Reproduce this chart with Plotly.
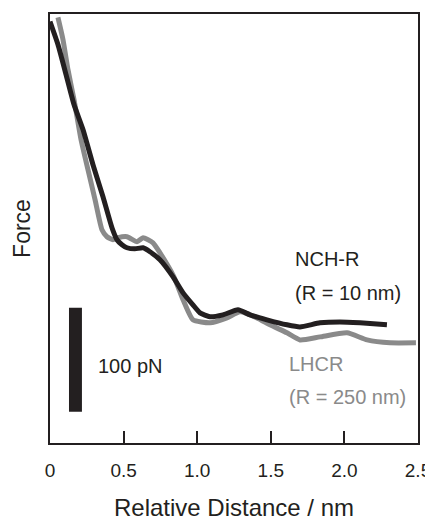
import plotly.graph_objects as go

# NCH-R (R = 10 nm) curve: relative distance (nm) vs force (pN, arbitrary offset)
nch_x = [0.0, 0.054, 0.109, 0.163, 0.224, 0.292, 0.360, 0.421, 0.455, 0.489, 0.523, 0.577,
         0.632, 0.679, 0.747, 0.836, 0.904, 0.971, 1.019, 1.087, 1.175, 1.277, 1.359, 1.474,
         1.610, 1.698, 1.834, 1.970, 2.106, 2.289]
nch_y = [404.8, 382.7, 353.8, 325.0, 301.0, 267.3, 236.5, 206.7, 195.2, 190.4, 187.5, 186.5,
         187.5, 183.7, 176.0, 159.6, 144.2, 132.7, 125.0, 121.2, 123.1, 127.9, 123.1, 118.3,
         113.5, 111.5, 115.4, 116.3, 115.4, 113.5]

# LHCR (R = 250 nm) curve
lhcr_x = [0.054, 0.088, 0.122, 0.163, 0.211, 0.258, 0.306, 0.353, 0.387, 0.428, 0.462, 0.523,
          0.591, 0.632, 0.700, 0.747, 0.842, 0.904, 0.971, 1.087, 1.202, 1.291, 1.406, 1.495,
          1.610, 1.698, 1.834, 2.018, 2.154, 2.310, 2.486]
lhcr_y = [408.7, 387.5, 358.7, 329.8, 291.3, 262.5, 233.7, 204.8, 198.1, 195.2, 197.1, 198.1,
          193.3, 197.1, 192.3, 182.7, 159.6, 137.5, 118.3, 115.4, 120.2, 126.0, 120.2, 113.5,
          105.8, 99.0, 101.9, 105.8, 99.0, 96.2, 96.2]

tick_vals = [0, 0.5, 1.0, 1.5, 2.0, 2.5]
tick_text = ["0", "0.5", "1.0", "1.5", "2.0", "2.5"]

# scale bar (100 pN)
scale_x0, scale_x1 = 0.129, 0.217
scale_y0, scale_len = 30, 100

FONT = "Liberation Sans, Arial, sans-serif"
BLACK = "#231f20"
GRAY = "#8a8a8a"

fig = go.Figure()
fig.add_trace(go.Scatter(x=lhcr_x, y=lhcr_y, mode="lines",
                         line=dict(color=GRAY, width=5, shape="spline", smoothing=0.5),
                         showlegend=False))
fig.add_trace(go.Scatter(x=nch_x, y=nch_y, mode="lines",
                         line=dict(color=BLACK, width=5, shape="spline", smoothing=0.5),
                         showlegend=False))

fig.add_shape(type="rect", x0=scale_x0, x1=scale_x1, y0=scale_y0, y1=scale_y0 + scale_len,
              fillcolor=BLACK, line=dict(width=0), xref="x", yref="y")

anns = [
    dict(x=0.31, y=74.0, text="100 pN", color=BLACK),
    dict(x=1.65, y=176.4, text="NCH-R", color=BLACK),
    dict(x=1.65, y=144.2, text="(R = 10 nm)", color=BLACK),
    dict(x=1.61, y=76.0, text="LHCR", color=GRAY),
    dict(x=1.61, y=44.2, text="(R = 250 nm)", color=GRAY),
]
for a in anns:
    fig.add_annotation(x=a["x"], y=a["y"], text=a["text"], showarrow=False,
                       xanchor="left", yanchor="middle",
                       font=dict(family=FONT, size=20, color=a["color"]))

# the page body adds an 8 px margin, so the margins compensate for it
fig.update_layout(
    width=433, height=521,
    margin=dict(l=42, r=23, t=6, b=86),
    paper_bgcolor="white", plot_bgcolor="white",
    font=dict(family=FONT, size=19, color=BLACK),
    xaxis=dict(range=[0, 2.5], tickvals=tick_vals, ticktext=tick_text,
               ticks="inside", ticklen=12, tickwidth=2, tickcolor=BLACK,
               showline=True, linewidth=2, linecolor=BLACK, mirror=True,
               showgrid=False, zeroline=False, automargin=False,
               ticklabelstandoff=9,
               tickfont=dict(family=FONT, size=19, color=BLACK),
               title=dict(text="Relative Distance / nm", standoff=19,
                          font=dict(family=FONT, size=24, color=BLACK))),
    yaxis=dict(range=[0, 412], showticklabels=False, ticks="",
               showline=True, linewidth=2, linecolor=BLACK, mirror=True,
               showgrid=False, zeroline=False, automargin=False,
               title=dict(text="Force", standoff=11,
                          font=dict(family=FONT, size=23, color=BLACK))),
)

fig.write_html("out.html")
